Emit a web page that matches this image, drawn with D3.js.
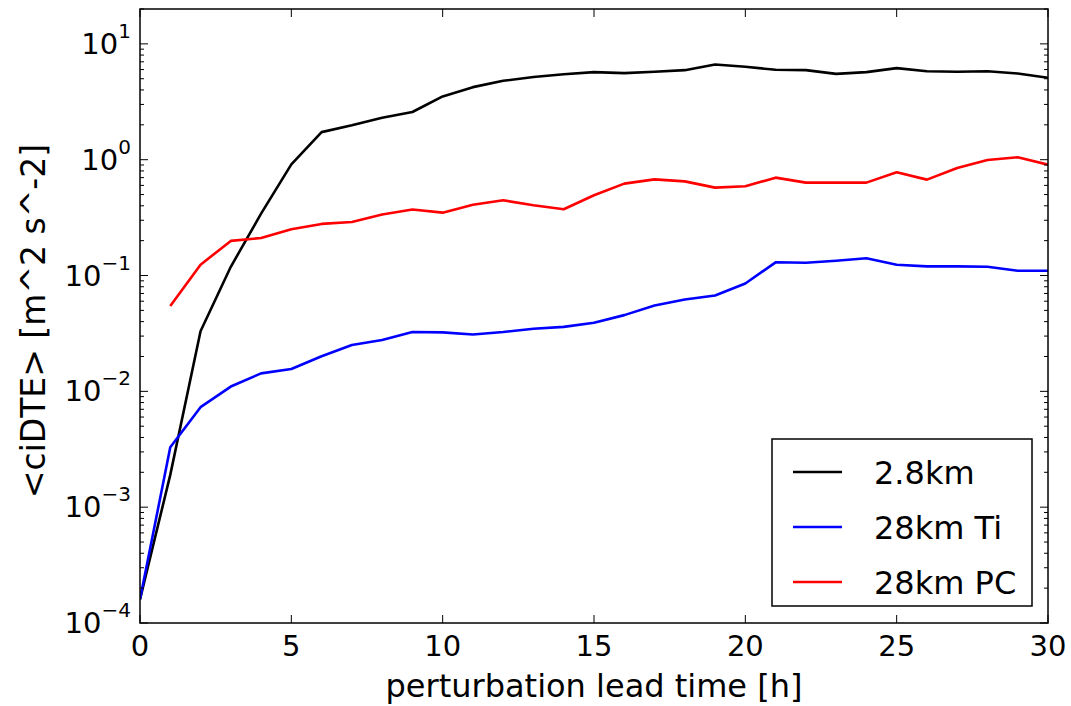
<!DOCTYPE html>
<html>
<head>
<meta charset="utf-8">
<script src="https://cdn.jsdelivr.net/npm/d3@7"></script>
<style>
  body { margin: 0; background: #fff; }
  svg text { font-family: "DejaVu Sans", sans-serif; fill: #000; }
</style>
</head>
<body>
<div id="chart"></div>
<script>
// lead time in hours
const hours = d3.range(0, 31);
const hoursPC = d3.range(1, 31);

const dte28 = [1.6e-4, 1.9e-3, 0.033, 0.119, 0.342, 0.91, 1.73, 1.98, 2.30, 2.58, 3.52,
  4.23, 4.80, 5.17, 5.47, 5.70, 5.59, 5.74, 5.93, 6.64, 6.34,
  5.97, 5.93, 5.51, 5.70, 6.17, 5.81, 5.74, 5.81, 5.55, 5.09];
const dteTi = [1.6e-4, 3.29e-3, 7.3e-3, 0.0110, 0.0143, 0.0156, 0.0201, 0.0251, 0.0278, 0.0325, 0.0323,
  0.0310, 0.0325, 0.0347, 0.0360, 0.0391, 0.0455, 0.0551, 0.0621, 0.0673, 0.0854,
  0.130, 0.129, 0.134, 0.141, 0.124, 0.120, 0.120, 0.119, 0.110, 0.110];
const dtePC = [0.0545, 0.124, 0.199, 0.211, 0.251, 0.279, 0.290, 0.336, 0.371, 0.349,
  0.409, 0.446, 0.404, 0.373, 0.493, 0.621, 0.676, 0.650, 0.574, 0.589,
  0.700, 0.634, 0.634, 0.634, 0.778, 0.673, 0.848, 0.993, 1.05, 0.906];

const seriesNames = ['2.8km', '28km Ti', '28km PC'];
const seriesColors = ['#000000', '#0000ff', '#ff0000'];
const xTicks = [0, 5, 10, 15, 20, 25, 30];
const yExponents = [-4, -3, -2, -1, 0, 1];

const series = [
  { name: seriesNames[0], color: seriesColors[0], x: hours, y: dte28 },
  { name: seriesNames[1], color: seriesColors[1], x: hours, y: dteTi },
  { name: seriesNames[2], color: seriesColors[2], x: hoursPC, y: dtePC }
];

const margin = { top: 9, right: 23, bottom: 83, left: 140 };
const width = 1071 - margin.left - margin.right;
const height = 706 - margin.top - margin.bottom;

const svg = d3.select('#chart').append('svg')
  .attr('width', 1071)
  .attr('height', 706);

const g = svg.append('g')
  .attr('transform', 'translate(' + margin.left + ',' + margin.top + ')');

const xScale = d3.scaleLinear().domain([0, 30]).range([0, width]);
const yScale = d3.scaleLog().domain([1e-4, 20]).range([height, 0]);

// clip lines to the axes
g.append('clipPath').attr('id', 'clip')
  .append('rect').attr('width', width).attr('height', height);

const line = d3.line()
  .x(d => xScale(d[0]))
  .y(d => yScale(d[1]));

series.forEach(s => {
  g.append('path')
    .datum(s.x.map((h, i) => [h, s.y[i]]))
    .attr('clip-path', 'url(#clip)')
    .attr('fill', 'none')
    .attr('stroke', s.color)
    .attr('stroke-width', 2.6)
    .attr('stroke-linejoin', 'round')
    .attr('d', line);
});

// ticks inside on all four sides
const minorVals = [];
yExponents.forEach(e => {
  for (let m = 2; m <= 9; m++) {
    const v = m * Math.pow(10, e);
    if (v <= 20) minorVals.push(v);
  }
});
const majorVals = yExponents.map(e => Math.pow(10, e));

const ticks = g.append('g').attr('stroke', '#000').attr('stroke-width', 1);
xTicks.forEach(t => {
  ticks.append('line').attr('x1', xScale(t)).attr('x2', xScale(t)).attr('y1', height).attr('y2', height - 8);
  ticks.append('line').attr('x1', xScale(t)).attr('x2', xScale(t)).attr('y1', 0).attr('y2', 8);
});
majorVals.forEach(v => {
  ticks.append('line').attr('x1', 0).attr('x2', 8).attr('y1', yScale(v)).attr('y2', yScale(v));
  ticks.append('line').attr('x1', width).attr('x2', width - 8).attr('y1', yScale(v)).attr('y2', yScale(v));
});
minorVals.forEach(v => {
  ticks.append('line').attr('x1', 0).attr('x2', 4).attr('y1', yScale(v)).attr('y2', yScale(v));
  ticks.append('line').attr('x1', width).attr('x2', width - 4).attr('y1', yScale(v)).attr('y2', yScale(v));
});

g.append('rect')
  .attr('width', width).attr('height', height)
  .attr('fill', 'none').attr('stroke', '#000').attr('stroke-width', 1.5);

// x tick labels
g.selectAll('.xlabel')
  .data(xTicks)
  .enter().append('text')
  .attr('class', 'xlabel')
  .attr('x', d => xScale(d))
  .attr('y', height + 33)
  .attr('text-anchor', 'middle')
  .attr('font-size', '29px')
  .text(d => d);

// y tick labels as 10^n
yExponents.forEach(e => {
  const t = g.append('text')
    .attr('x', -9)
    .attr('y', yScale(Math.pow(10, e)) + 10)
    .attr('text-anchor', 'end')
    .attr('font-size', '29px');
  t.append('tspan').text('10');
  t.append('tspan')
    .attr('dy', -16)
    .attr('font-size', '20px')
    .text(e < 0 ? '\u2212' + (-e) : String(e));
});

g.append('text')
  .attr('x', width / 2)
  .attr('y', height + 74)
  .attr('text-anchor', 'middle')
  .attr('font-size', '32px')
  .text('perturbation lead time [h]');

g.append('text')
  .attr('transform', 'rotate(-90)')
  .attr('x', -312)
  .attr('y', -95)
  .attr('text-anchor', 'middle')
  .attr('font-size', '33px')
  .text('<ciDTE> [m^2 s^-2]');

// legend
const legend = svg.append('g').attr('transform', 'translate(772,439)');
legend.append('rect')
  .attr('width', 260).attr('height', 167)
  .attr('fill', '#fff').attr('stroke', '#000').attr('stroke-width', 1.5);
series.forEach((s, i) => {
  const yy = 33 + i * 55;
  legend.append('line')
    .attr('x1', 21).attr('x2', 70)
    .attr('y1', yy).attr('y2', yy)
    .attr('stroke', s.color).attr('stroke-width', 2.6);
  legend.append('text')
    .attr('x', 102).attr('y', yy + 12)
    .attr('font-size', '32px')
    .text(s.name);
});
</script>
</body>
</html>
